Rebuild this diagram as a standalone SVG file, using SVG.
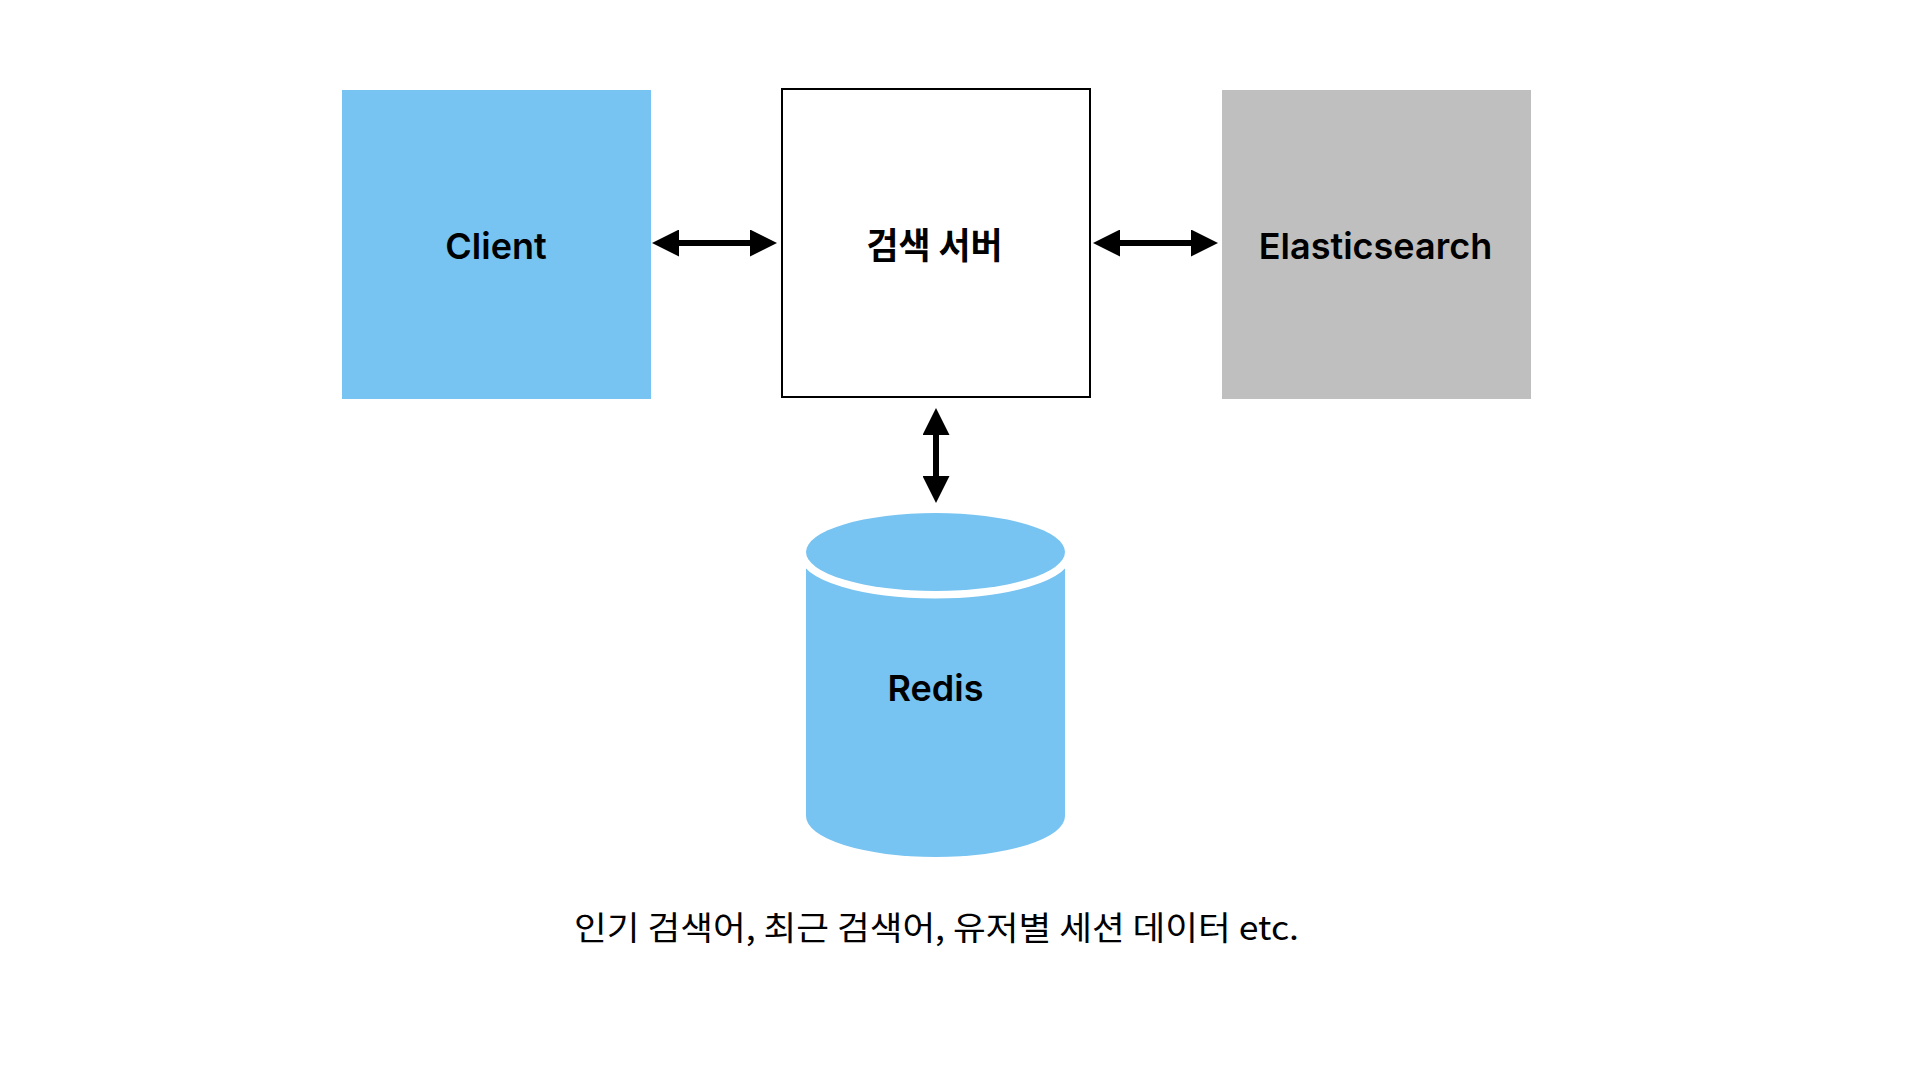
<svg xmlns="http://www.w3.org/2000/svg" width="1920" height="1080" viewBox="0 0 1920 1080">
  <defs>
    <marker id="head" markerUnits="userSpaceOnUse" markerWidth="27" markerHeight="27" viewBox="0 0 27 27" refX="17" refY="13.5" orient="auto-start-reverse">
      <path d="M0,0 L27,13.5 L0,27 Z" fill="#000"/>
    </marker>
  </defs>
  <style>
    .lbl { font-family: Inter, "Noto Sans", "Liberation Sans", sans-serif; font-weight: 600; font-size: 36px; fill: #000; text-anchor: middle; }
    .kr { font-family: "Noto Sans CJK KR", "Noto Sans", sans-serif; font-weight: 700; font-size: 36px; fill: #000; text-anchor: middle; }
    .cap { font-family: "Noto Sans CJK KR", "Noto Sans", sans-serif; font-weight: 400; font-size: 33px; fill: #000; text-anchor: middle; }
    .conn { stroke: #000; stroke-width: 6; fill: none; marker-start: url(#head); marker-end: url(#head); }
    .blue { fill: #77C3F1; }
  </style>
  <rect width="1920" height="1080" fill="#fff"/>

  <g id="client">
    <rect class="blue" x="342" y="90" width="309" height="309"/>
    <text class="lbl" x="496" y="259">Client</text>
  </g>

  <g id="server">
    <rect x="782" y="89" width="308" height="308" fill="#fff" stroke="#000" stroke-width="2"/>
    <text class="kr" x="934.5" y="259" textLength="136" lengthAdjust="spacingAndGlyphs">검색 서버</text>
  </g>

  <g id="elasticsearch">
    <rect x="1222" y="90" width="309" height="309" fill="#BFBFBF"/>
    <text class="lbl" x="1375.5" y="259">Elasticsearch</text>
  </g>

  <g id="redis">
    <path class="blue" d="M806,553 L806,816 A129.5,41 0 0 0 1065,816 L1065,553 Z"/>
    <ellipse class="blue" cx="935.5" cy="552" rx="129.5" ry="39" stroke="#fff" stroke-width="15" paint-order="stroke"/>
    <text class="lbl" x="935.5" y="701">Redis</text>
  </g>

  <g id="caption">
    <text class="cap" x="936.5" y="940" textLength="725" lengthAdjust="spacingAndGlyphs">인기 검색어, 최근 검색어, 유저별 세션 데이터 etc.</text>
  </g>

  <g id="connectors">
    <line class="conn" x1="662" y1="243" x2="767" y2="243"/>
    <line class="conn" x1="1103" y1="243" x2="1208" y2="243"/>
    <line class="conn" x1="936" y1="418" x2="936" y2="493"/>
  </g>
</svg>
